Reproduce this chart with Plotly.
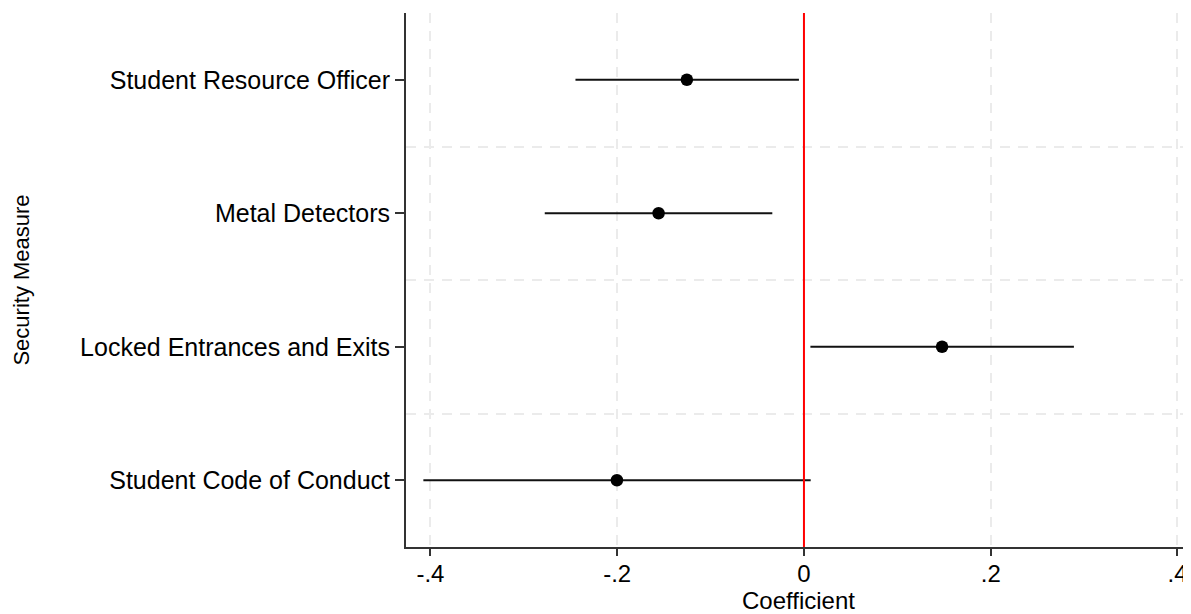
import plotly.graph_objects as go

categories = ["Student Resource Officer", "Metal Detectors",
              "Locked Entrances and Exits", "Student Code of Conduct"]
coef = [-0.1254, -0.1557, 0.1479, -0.2003]
ci_low = [-0.2447, -0.2776, 0.0069, -0.4076]
ci_high = [-0.0054, -0.0339, 0.2891, 0.0072]
x_ticks = [-0.4, -0.2, 0, 0.2, 0.4]
x_tick_labels = ["-.4", "-.2", "0", ".2", ".4"]

ypos = [i + 1 for i in range(len(categories))]
err_plus = [h - c for h, c in zip(ci_high, coef)]
err_minus = [c - l for c, l in zip(coef, ci_low)]

FONT = "Liberation Sans, Arial, Helvetica, sans-serif"

fig = go.Figure()
fig.add_trace(go.Scatter(
    x=coef, y=ypos, mode="markers",
    marker=dict(color="black", size=12.5),
    error_x=dict(type="data", array=err_plus, arrayminus=err_minus,
                 color="#111111", thickness=2.2, width=0),
    showlegend=False, hoverinfo="skip",
))

fig.add_shape(type="line", xref="x", yref="paper", x0=0, x1=0, y0=0, y1=1,
              line=dict(color="#ff0000", width=2), layer="above")

grid_dash = "10px,8px"
fig.update_layout(
    width=1183, height=606,
    margin=dict(l=398, r=0, t=5, b=67),
    paper_bgcolor="white", plot_bgcolor="white",
    font=dict(family=FONT, size=25, color="black"),
    xaxis=dict(
        range=[-0.4262, 0.4145],
        tickvals=x_ticks, ticktext=x_tick_labels,
        showline=True, linecolor="#333333", linewidth=2,
        ticks="outside", ticklen=7, tickwidth=1.5, tickcolor="#333333",
        ticklabelstandoff=-3,
        showgrid=True, gridcolor="#ebebeb", gridwidth=2, griddash=grid_dash,
        zeroline=False,
        title=dict(text="Coefficient", standoff=6, font=dict(size=24)),
        tickfont=dict(size=24),
    ),
    yaxis=dict(
        range=[4.5, 0.5],
        tickvals=ypos, ticktext=categories,
        showline=True, linecolor="#333333", linewidth=2,
        ticks="outside", ticklen=9, tickwidth=1.5, tickcolor="#333333",
        showgrid=False, zeroline=False,
        minor=dict(tickvals=[1.5, 2.5, 3.5], showgrid=True, gridcolor="#ebebeb",
                   gridwidth=2, griddash=grid_dash, ticks=""),
        title=dict(text="Security Measure", standoff=44, font=dict(size=22)),
        tickfont=dict(size=25),
    ),
)

fig.write_html("out.html")
